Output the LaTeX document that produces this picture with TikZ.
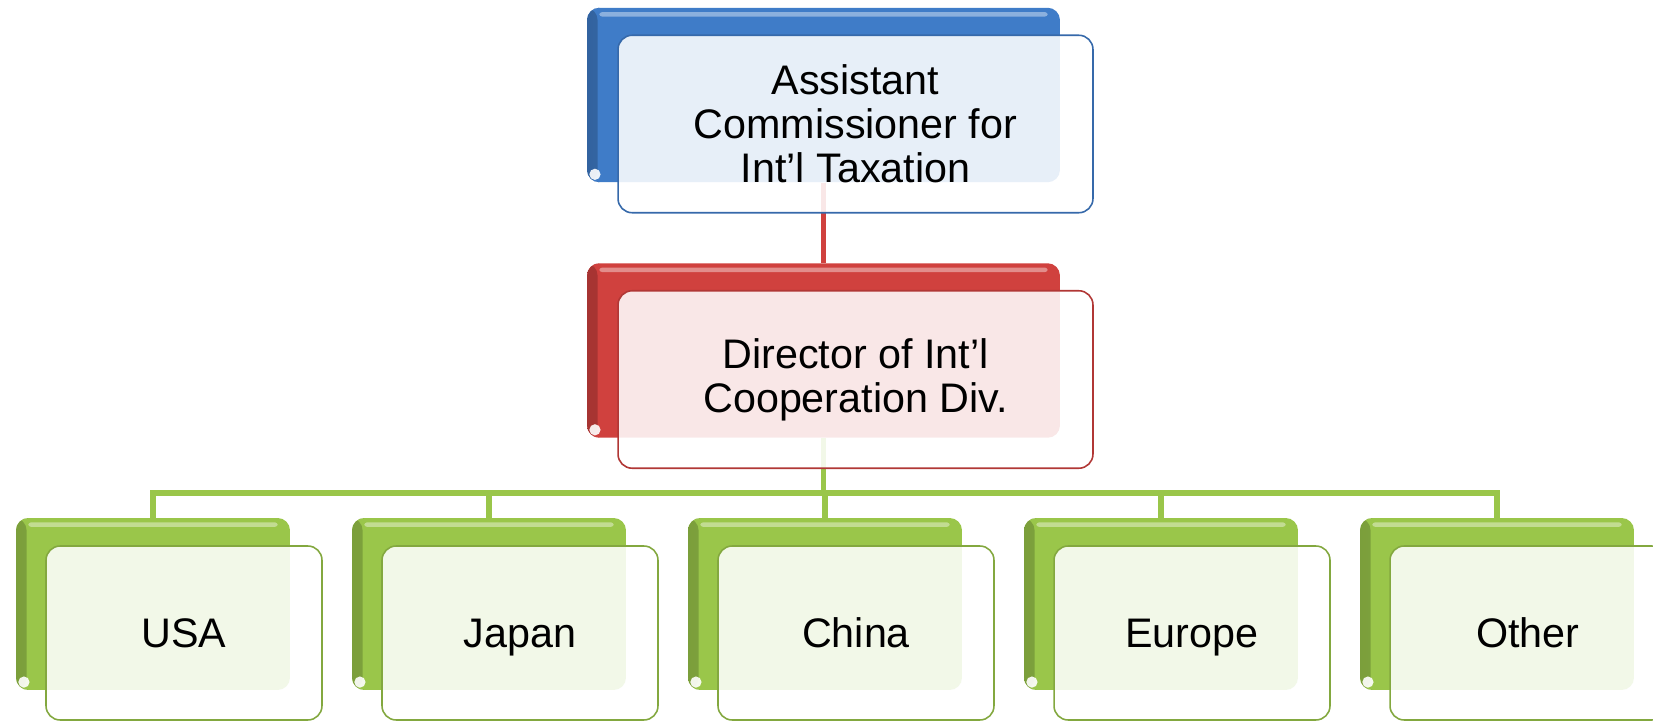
\documentclass[tikz,border=0pt]{standalone}
\usepackage{fontspec}
\setmainfont{Liberation Sans}
\usetikzlibrary{backgrounds}

\definecolor{boxblue}{HTML}{3F7CC8}
\definecolor{boxred}{HTML}{D0413E}
\definecolor{boxgreen}{HTML}{9AC64A}

% keeps one-line labels centred on their capitals
\newcommand{\capstrut}{\rule[-6pt]{0pt}{28.8pt}}

\tikzset{
  % coloured card at the back, with a shine on top and a curl at the corner
  back/.style={fill=#1, rounded corners=7pt, inner sep=0pt,
    path picture={
      \shade[left color=#1!80!black, right color=#1]
        (path picture bounding box.south west) rectangle
        ([xshift=6pt]path picture bounding box.north west);
      \fill[white, opacity=0.4, rounded corners=1.5pt]
        ([shift={(7pt,-2.5pt)}]path picture bounding box.north west) rectangle
        ([shift={(-7pt,-5pt)}]path picture bounding box.north east);
      \fill[white, opacity=0.9]
        ([shift={(4.5pt,4.5pt)}]path picture bounding box.south west) circle (3.2pt);
    }},
  % pale card in front that carries the text
  front/.style={draw=#1!85!black, line width=0.9pt, rounded corners=8pt,
    fill=white, fill opacity=0.88, text opacity=1, inner sep=0pt,
    align=center, font=\fontsize{23.5}{25}\selectfont},
  wideback/.style={minimum width=9.46cm, minimum height=3.49cm},
  widefront/.style={minimum width=9.5cm, minimum height=3.55cm},
  smallback/.style={minimum width=5.48cm, minimum height=3.44cm},
  smallfront/.style={minimum width=5.52cm, minimum height=3.48cm},
  link/.style={line width=3pt, draw=#1}
}

\begin{document}
\begin{tikzpicture}[x=0.02cm, y=-0.02cm]
  \useasboundingbox (0,0) rectangle (1653,722);

  % Top: assistant commissioner
  \node[back=boxblue, wideback] (comm) at (823.5,95) {};
  \node[front=boxblue, widefront] (comm-t) at (855.5,124)
    {Assistant\\Commissioner for\\Int’l Taxation};

  % Middle: division director
  \node[back=boxred, wideback] (dir) at (823.5,350.5) {};
  \node[front=boxred, widefront] (dir-t) at (855.5,379.5)
    {Director of Int’l\\Cooperation Div.};

  % Bottom row: one card per region
  \foreach \name/\label [count=\i from 0] in
      {usa/USA, japan/Japan, china/China, europe/Europe, other/Other} {
    \node[back=boxgreen, smallback] (\name) at (153+336*\i,604) {};
    \node[front=boxgreen, smallfront] (\name-t) at (184+336*\i,633)
      {\capstrut\label};
  }

  % Connectors go under the cards
  \begin{scope}[on background layer]
    \draw[link=boxred] (comm) -- (dir);
    \draw[link=boxgreen] (dir.south) -- ++(0,55) coordinate (bus);
    \draw[link=boxgreen] (usa.north) -- (usa.north |- bus)
      -- (other.north |- bus) -- (other.north);
    \foreach \name in {japan, china, europe}
      \draw[link=boxgreen] (bus -| \name.north) -- (\name.north);
  \end{scope}
\end{tikzpicture}
\end{document}
